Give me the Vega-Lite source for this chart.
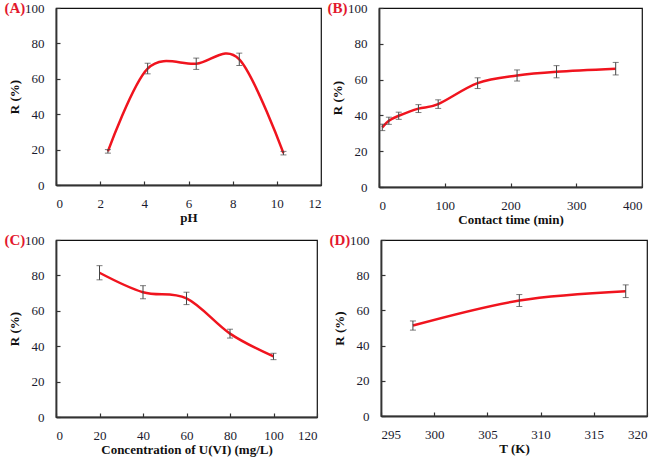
{
  "$schema": "https://vega.github.io/schema/vega-lite/v6.json",
  "padding": {"left": 3, "top": 0, "right": 0, "bottom": 0},
  "background": "white",
  "config": {
    "view": {"stroke": "#111", "strokeWidth": 1.2},
    "axis": {
      "grid": false,
      "domainColor": "#333",
      "domainWidth": 1.8,
      "tickColor": "#333",
      "tickWidth": 1.2,
      "tickSize": -4,
      "labelPadding": 16,
      "labelFont": "Liberation Serif",
      "labelFontSize": 13,
      "labelColor": "#1a1a2e",
      "titleFont": "Liberation Serif",
      "titleFontSize": 13,
      "titleFontWeight": "bold",
      "titleColor": "#111"
    },
    "axisX": {"titlePadding": 1},
    "axisY": {"titlePadding": 3},
    "title": {
      "anchor": "start",
      "frame": "bounds",
      "color": "#e3182d",
      "font": "Liberation Serif",
      "fontSize": 15,
      "fontWeight": "bold",
      "offset": -14,
      "dx": -4
    }
  },
  "datasets": {
    "A": [
      {"x": 2.35, "r": 19, "lo": 18, "hi": 20},
      {"x": 4.15, "r": 65.8, "lo": 62.8, "hi": 68.8},
      {"x": 6.35, "r": 68.5, "lo": 65.3, "hi": 71.7},
      {"x": 8.3, "r": 71, "lo": 67.5, "hi": 74.5},
      {"x": 10.3, "r": 18, "lo": 17, "hi": 19}
    ],
    "B": [
      {"x": 5, "r": 33.3, "lo": 31.5, "hi": 35.1},
      {"x": 15, "r": 37, "lo": 35, "hi": 39},
      {"x": 30, "r": 39.8, "lo": 37.8, "hi": 41.8},
      {"x": 60, "r": 43.8, "lo": 41.6, "hi": 46},
      {"x": 90, "r": 46.3, "lo": 43.9, "hi": 48.7},
      {"x": 150, "r": 58, "lo": 55, "hi": 61},
      {"x": 210, "r": 62.3, "lo": 59.2, "hi": 65.4},
      {"x": 270, "r": 64.4, "lo": 61, "hi": 67.8},
      {"x": 360, "r": 66.1, "lo": 62.6, "hi": 69.6}
    ],
    "C": [
      {"x": 20, "r": 81.5, "lo": 77.5, "hi": 85.5},
      {"x": 40, "r": 70.5, "lo": 66.8, "hi": 74.2},
      {"x": 60, "r": 67, "lo": 63.5, "hi": 70.5},
      {"x": 80, "r": 47.1, "lo": 44.6, "hi": 49.6},
      {"x": 100, "r": 34.2, "lo": 32.4, "hi": 36}
    ],
    "D": [
      {"x": 298, "r": 51.4, "lo": 48.8, "hi": 54},
      {"x": 308, "r": 65.6, "lo": 62.2, "hi": 69},
      {"x": 318, "r": 70.9, "lo": 67.3, "hi": 74.5}
    ]
  },
  "spacing": 5,
  "vconcat": [
    {
      "spacing": 3,
      "hconcat": [
        {
          "width": 265, "height": 177,
          "title": {"text": "(A)"},
          "data": {"name": "A"},
          "encoding": {
            "x": {"field": "x", "type": "quantitative", "scale": {"domain": [0, 12], "nice": false}, "axis": {"values": [0, 2, 4, 6, 8, 10, 12], "title": "pH"}},
            "y": {"field": "r", "type": "quantitative", "scale": {"domain": [0, 100], "nice": false}, "axis": {"values": [0, 20, 40, 60, 80, 100], "title": "R (%)"}}
          },
          "layer": [
            {"mark": {"type": "line", "color": "#f0141e", "strokeWidth": 2.5, "interpolate": "cardinal", "tension": 0}},
            {"mark": {"type": "rule", "color": "#444", "strokeWidth": 1}, "encoding": {"y": {"field": "lo", "type": "quantitative"}, "y2": {"field": "hi"}}},
            {"mark": {"type": "tick", "orient": "horizontal", "color": "#444", "size": 6, "thickness": 1}, "encoding": {"y": {"field": "lo", "type": "quantitative"}}},
            {"mark": {"type": "tick", "orient": "horizontal", "color": "#444", "size": 6, "thickness": 1}, "encoding": {"y": {"field": "hi", "type": "quantitative"}}}
          ]
        },
        {
          "width": 263, "height": 179,
          "title": {"text": "(B)"},
          "data": {"name": "B"},
          "encoding": {
            "x": {"field": "x", "type": "quantitative", "scale": {"domain": [0, 400], "nice": false}, "axis": {"values": [0, 100, 200, 300, 400], "title": "Contact time (min)"}},
            "y": {"field": "r", "type": "quantitative", "scale": {"domain": [0, 100], "nice": false}, "axis": {"values": [0, 20, 40, 60, 80, 100], "title": "R (%)"}}
          },
          "layer": [
            {"mark": {"type": "line", "color": "#f0141e", "strokeWidth": 2.5, "interpolate": "cardinal", "tension": 0}},
            {"mark": {"type": "rule", "color": "#444", "strokeWidth": 1}, "encoding": {"y": {"field": "lo", "type": "quantitative"}, "y2": {"field": "hi"}}},
            {"mark": {"type": "tick", "orient": "horizontal", "color": "#444", "size": 6, "thickness": 1}, "encoding": {"y": {"field": "lo", "type": "quantitative"}}},
            {"mark": {"type": "tick", "orient": "horizontal", "color": "#444", "size": 6, "thickness": 1}, "encoding": {"y": {"field": "hi", "type": "quantitative"}}}
          ]
        }
      ]
    },
    {
      "spacing": 9,
      "hconcat": [
        {
          "width": 261, "height": 177,
          "title": {"text": "(C)"},
          "data": {"name": "C"},
          "encoding": {
            "x": {"field": "x", "type": "quantitative", "scale": {"domain": [0, 120], "nice": false}, "axis": {"values": [0, 20, 40, 60, 80, 100, 120], "title": "Concentration  of U(VI)  (mg/L)"}},
            "y": {"field": "r", "type": "quantitative", "scale": {"domain": [0, 100], "nice": false}, "axis": {"values": [0, 20, 40, 60, 80, 100], "title": "R (%)"}}
          },
          "layer": [
            {"mark": {"type": "line", "color": "#f0141e", "strokeWidth": 2.5, "interpolate": "cardinal", "tension": 0}},
            {"mark": {"type": "rule", "color": "#444", "strokeWidth": 1}, "encoding": {"y": {"field": "lo", "type": "quantitative"}, "y2": {"field": "hi"}}},
            {"mark": {"type": "tick", "orient": "horizontal", "color": "#444", "size": 6, "thickness": 1}, "encoding": {"y": {"field": "lo", "type": "quantitative"}}},
            {"mark": {"type": "tick", "orient": "horizontal", "color": "#444", "size": 6, "thickness": 1}, "encoding": {"y": {"field": "hi", "type": "quantitative"}}}
          ]
        },
        {
          "width": 266, "height": 176,
          "title": {"text": "(D)"},
          "data": {"name": "D"},
          "encoding": {
            "x": {"field": "x", "type": "quantitative", "scale": {"domain": [295, 320], "nice": false, "zero": false}, "axis": {"values": [295, 300, 305, 310, 315, 320], "title": "T (K)"}},
            "y": {"field": "r", "type": "quantitative", "scale": {"domain": [0, 100], "nice": false}, "axis": {"values": [0, 20, 40, 60, 80, 100], "title": "R (%)"}}
          },
          "layer": [
            {"mark": {"type": "line", "color": "#f0141e", "strokeWidth": 2.5, "interpolate": "cardinal", "tension": 0}},
            {"mark": {"type": "rule", "color": "#444", "strokeWidth": 1}, "encoding": {"y": {"field": "lo", "type": "quantitative"}, "y2": {"field": "hi"}}},
            {"mark": {"type": "tick", "orient": "horizontal", "color": "#444", "size": 6, "thickness": 1}, "encoding": {"y": {"field": "lo", "type": "quantitative"}}},
            {"mark": {"type": "tick", "orient": "horizontal", "color": "#444", "size": 6, "thickness": 1}, "encoding": {"y": {"field": "hi", "type": "quantitative"}}}
          ]
        }
      ]
    }
  ]
}
